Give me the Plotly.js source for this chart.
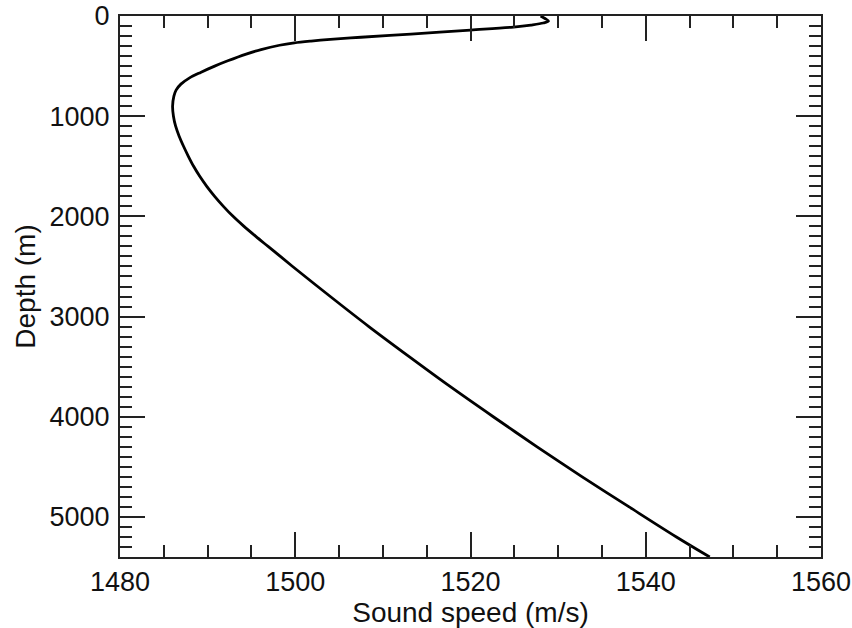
<!DOCTYPE html>
<html>
<head>
<meta charset="utf-8">
<script src="https://cdn.plot.ly/plotly-3.0.1.min.js"></script>
<style>html,body{margin:0;padding:0;background:#fff;}#chart{width:852px;height:628px;}</style>
</head>
<body>
<div id="chart"></div>
<script>
const depth = [0, 25, 50, 70, 90, 110, 140, 180, 212, 233, 250, 268, 292, 335, 380, 447, 500, 563, 620, 680, 740, 800, 900, 1000, 1100, 1200, 1300, 1400, 1500, 1600, 1700, 1800, 1900, 2000, 2100, 2200, 2300, 2400, 2500, 2800, 3100, 3400, 3700, 4000, 4300, 4600, 4900, 5200, 5400];
const soundSpeed = [1528.0, 1528.5, 1528.9, 1528.3, 1526.9, 1524.9, 1520.0, 1513.2, 1507.5, 1504.0, 1501.8, 1499.9, 1498.2, 1496.1, 1494.4, 1492.3, 1490.8, 1489.2, 1487.9, 1486.95, 1486.4, 1486.15, 1486.0, 1486.1, 1486.35, 1486.75, 1487.25, 1487.8, 1488.4, 1489.1, 1489.9, 1490.8, 1491.8, 1492.9, 1494.15, 1495.5, 1496.9, 1498.3, 1499.7, 1504.0, 1508.4, 1513.0, 1517.7, 1522.6, 1527.6, 1532.75, 1538.1, 1543.5, 1547.3];
const xTicks = [1480, 1500, 1520, 1540, 1560];
const yTicks = [0, 1000, 2000, 3000, 4000, 5000];
const xRange = [1480, 1560];
const yRange = [5400, 0];

const family = 'Liberation Sans, Arial, Helvetica, sans-serif';
const tickFont = {family: family, color: '#111', size: 27};
const titleFont = {family: family, color: '#111', size: 28};

function axisBase(range, ticks, minorStep) {
  return {
    range: range,
    tickvals: ticks, ticktext: ticks.map(String),
    ticks: 'inside', ticklen: 25, tickwidth: 2, tickcolor: '#222',
    minor: {dtick: minorStep, tick0: 0, ticks: 'inside', ticklen: 12, tickwidth: 2, tickcolor: '#222', showgrid: false},
    showline: true, linecolor: '#222', linewidth: 2,
    showgrid: false, zeroline: false,
    tickfont: tickFont, fixedrange: true
  };
}

const xaxis = Object.assign(axisBase(xRange, xTicks, 5), {
  ticklabelstandoff: 0,
  title: {text: 'Sound speed (m/s)', font: titleFont, standoff: 2}
});
const yaxis = Object.assign(axisBase(yRange, yTicks, 100), {
  ticklabelstandoff: 3,
  title: {text: 'Depth (m)', font: titleFont, standoff: 6}
});
const xaxis2 = Object.assign(axisBase(xRange, xTicks, 5), {
  overlaying: 'x', side: 'top', anchor: 'y2', showticklabels: false
});
const yaxis2 = Object.assign(axisBase(yRange, yTicks, 100), {
  overlaying: 'y', side: 'right', anchor: 'x2', showticklabels: false
});

Plotly.newPlot('chart', [{
  x: soundSpeed,
  y: depth,
  mode: 'lines',
  line: {color: '#000', width: 2.8, shape: 'spline', smoothing: 0.9},
  hoverinfo: 'skip'
}, {
  x: soundSpeed,
  y: depth,
  xaxis: 'x2', yaxis: 'y2',
  mode: 'lines',
  line: {color: 'rgba(0,0,0,0)', width: 0},
  hoverinfo: 'skip'
}], {
  width: 852, height: 628,
  margin: {l: 120, r: 31, t: 16, b: 71},
  paper_bgcolor: '#fff', plot_bgcolor: '#fff',
  showlegend: false,
  xaxis: xaxis, yaxis: yaxis, xaxis2: xaxis2, yaxis2: yaxis2
}, {staticPlot: true});
</script>
</body>
</html>
